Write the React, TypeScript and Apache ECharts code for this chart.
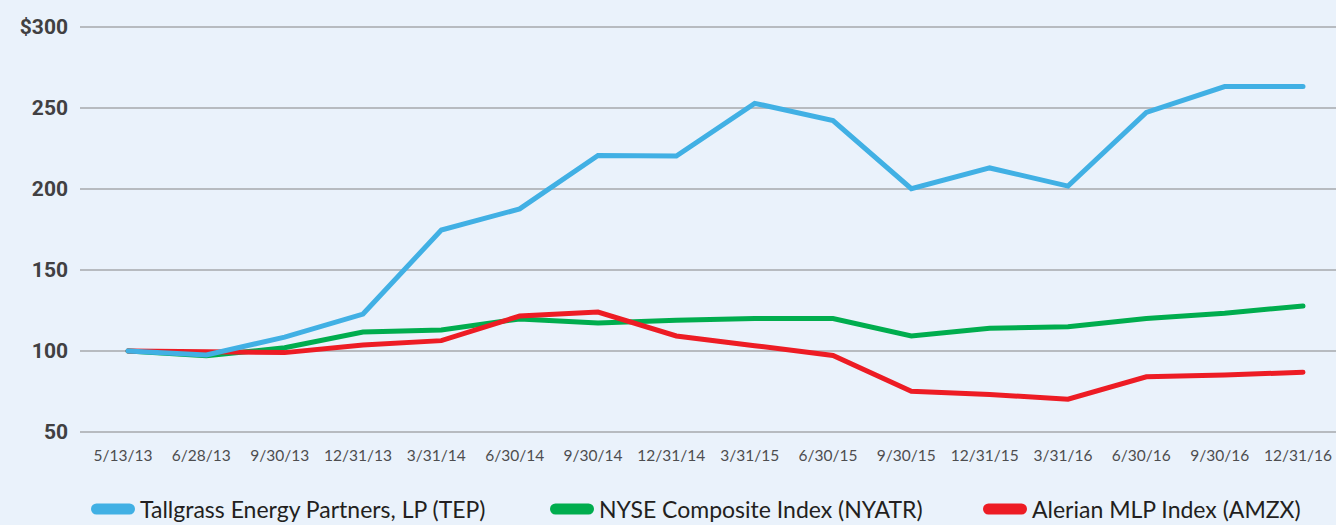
import React, { useEffect, useRef } from "react";
import * as echarts from "echarts";

const categories = [
  "5/13/13", "6/28/13", "9/30/13", "12/31/13", "3/31/14", "6/30/14", "9/30/14", "12/31/14",
  "3/31/15", "6/30/15", "9/30/15", "12/31/15", "3/31/16", "6/30/16", "9/30/16", "12/31/16",
];
const tepValues = [100, 97.5, 108.6, 122.8, 174.7, 187.7, 220.7, 220.4, 252.9, 242.2, 200.2, 213, 201.8, 247.3, 263.2, 263.2];
const nyatrValues = [100, 97, 102, 111.7, 113, 119.8, 117.3, 119, 120, 120, 109.3, 114, 115, 120, 123.3, 127.8];
const amzxValues = [100, 99.5, 99, 103.7, 106.4, 121.6, 124, 109.3, 103.3, 97.2, 75.1, 73.2, 70.2, 84.1, 85.2, 86.9];
const seriesNames = [
  "Tallgrass Energy Partners, LP (TEP)",
  "NYSE Composite Index (NYATR)",
  "Alerian MLP Index (AMZX)",
];
const seriesColors = ["#41b0e4", "#00ad4e", "#ed1c24"];
const yTicks = { min: 50, max: 300, interval: 50 };

const capsule = "path://M5.5,0H38.5A5.5,5.5,0,0,1,38.5,11H5.5A5.5,5.5,0,0,1,5.5,0Z";

export default function App() {
  const ref = useRef<HTMLDivElement>(null);
  useEffect(() => {
    if (!ref.current) return;
    const chart = echarts.init(ref.current, undefined, { renderer: "svg" });
    const legendLefts = [91, 550, 983];
    const option: any = {
      animation: false,
      backgroundColor: "#eaf2fb",
      grid: [
        { left: 128, right: 33, top: 27, bottom: 93 },
        { left: 80, right: 0, top: 27, bottom: 93 },
      ],
      xAxis: [
        {
          gridIndex: 0,
          type: "category",
          boundaryGap: false,
          data: categories,
          axisLine: { show: false },
          axisTick: { show: false },
          axisLabel: {
            color: "#4d4d4f",
            fontSize: 15.5,
            fontFamily: "Lato",
            margin: 15,
            padding: [0, 10, 0, 0],
            interval: 0,
          },
        },
        { gridIndex: 1, type: "category", data: categories, show: false },
      ],
      yAxis: [
        { gridIndex: 0, type: "value", ...yTicks, show: false },
        {
          gridIndex: 1,
          type: "value",
          ...yTicks,
          axisLine: { show: false },
          axisTick: { show: false },
          axisLabel: {
            color: "#414042",
            fontSize: 21,
            fontWeight: "bold",
            fontFamily: "Roboto",
            margin: 12,
            formatter: (v: number) => (v === 300 ? "$300" : String(v)),
          },
          splitLine: { lineStyle: { color: "#a6a9ad", width: 1.5 } },
        },
      ],
      legend: seriesNames.map((name, i) => ({
        data: [name],
        left: legendLefts[i],
        top: 496,
        padding: 0,
        itemWidth: 44,
        itemHeight: 11,
        itemGap: 5,
        icon: capsule,
        selectedMode: false,
        textStyle: { fontSize: 23, lineHeight: 26, color: "#231f20", fontFamily: "Lato" },
      })),
      series: [
        { name: seriesNames[1], data: nyatrValues, colorIdx: 1 },
        { name: seriesNames[2], data: amzxValues, colorIdx: 2 },
        { name: seriesNames[0], data: tepValues, colorIdx: 0 },
      ].map((s) => ({
        name: s.name,
        type: "line",
        xAxisIndex: 0,
        yAxisIndex: 0,
        data: s.data,
        symbol: "none",
        color: seriesColors[s.colorIdx],
        lineStyle: { width: 5, color: seriesColors[s.colorIdx], cap: "round", join: "miter" },
      })),
    };
    chart.setOption(option);
    return () => chart.dispose();
  }, []);
  return (
    <div
      ref={ref}
      style={{ position: "fixed", left: 0, top: 0, width: 1336, height: 525, background: "#eaf2fb" }}
    />
  );
}
